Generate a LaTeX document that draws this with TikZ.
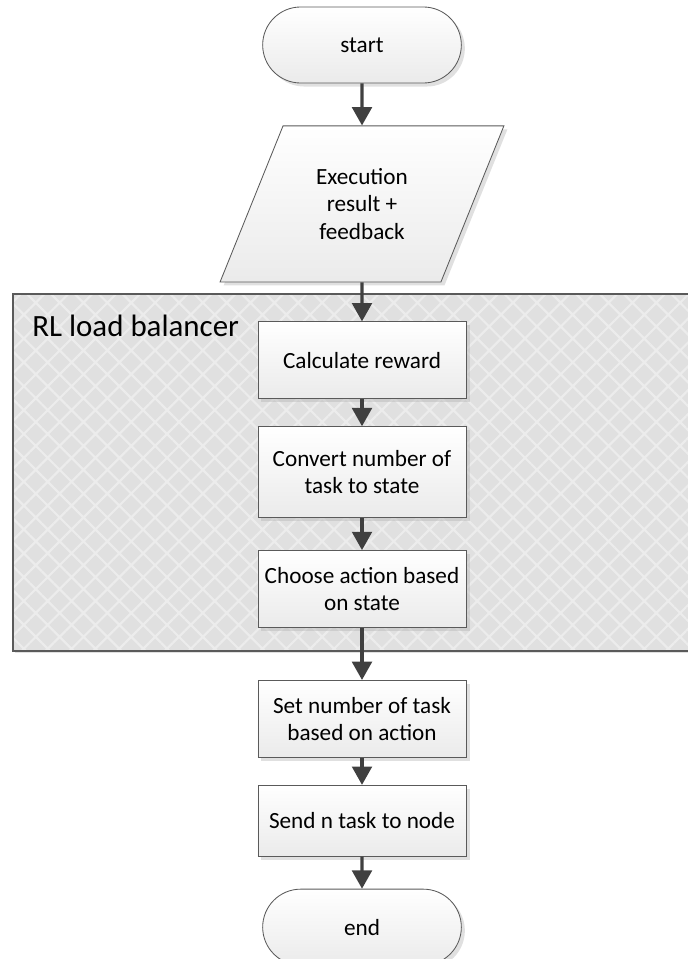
\documentclass[tikz,border=0pt]{standalone}
\usepackage{fontspec}
\setmainfont{Carlito}
\usetikzlibrary{positioning,arrows.meta,shapes.misc,shapes.geometric,shadows,patterns.meta}
\definecolor{linegray}{HTML}{404040}
\definecolor{boxedge}{HTML}{5A5A5A}
\definecolor{groupfill}{HTML}{E0E0E0}
\definecolor{grouplattice}{HTML}{ECECEC}

\begin{document}
\begin{tikzpicture}[x=0.025cm, y=-0.025cm,
  base/.style={draw=boxedge, line width=0.6pt, top color=white, bottom color=black!8,
    drop shadow={shadow xshift=2.5pt, shadow yshift=-2.5pt, fill=black!30, opacity=0.4},
    align=center, font=\fontsize{16.5}{19.5}\selectfont},
  term/.style={base, rounded rectangle, minimum width=5.2cm, minimum height=1.9cm},
  io/.style={base, trapezium, trapezium left angle=63.4, trapezium right angle=116.6,
    trapezium stretches=true, minimum width=7.1cm, minimum height=3.9cm},
  proc/.style={base, rectangle, minimum width=5.2cm, minimum height=1.925cm},
  flow/.style={draw=linegray, line width=2.2pt, -{Triangle[width=14pt,length=13pt]}},
]
  \useasboundingbox (0,0) rectangle (687,959);

  % Balancer group
  \fill[groupfill, drop shadow={shadow xshift=1.5pt, shadow yshift=-1.5pt, fill=black!30, opacity=0.4}]
    (13,294) rectangle (700,651);
  \fill[pattern={Hatch[angle=45,distance=12pt,line width=1.6pt]}, pattern color=grouplattice]
    (13,294) rectangle (700,651);
  \draw[boxedge, line width=0.8pt] (13,294) rectangle (700,651);
  \node[anchor=base west, inner sep=0pt, font=\fontsize{22}{26}\selectfont] (grouplabel) at (32,336) {RL load balancer};

  % Steps
  \node[term] (start) at (362,45) {start};
  \node[io, below=1.05cm of start] (result) {Execution\\result +\\feedback};
  \node[proc, below=0.975cm of result] (reward) {Calculate reward};
  \node[proc, below=0.675cm of reward, minimum height=2.275cm] (convert) {Convert number of\\task to state};
  \node[proc, below=0.8cm of convert] (choose) {Choose action based\\on state};
  \node[proc, below=1.3cm of choose] (setnum) {Set number of task\\based on action};
  \node[proc, below=0.675cm of setnum, minimum height=1.775cm] (send) {Send n task to node};
  \node[term, below=0.8cm of send] (end) {end};

  % Flow
  \draw[flow] (start) -- (result);
  \draw[flow] (result) -- (reward);
  \draw[flow] (reward) -- (convert);
  \draw[flow] (convert) -- (choose);
  \draw[flow] (choose) -- (setnum);
  \draw[flow] (setnum) -- (send);
  \draw[flow] (send) -- (end);
\end{tikzpicture}
\end{document}
